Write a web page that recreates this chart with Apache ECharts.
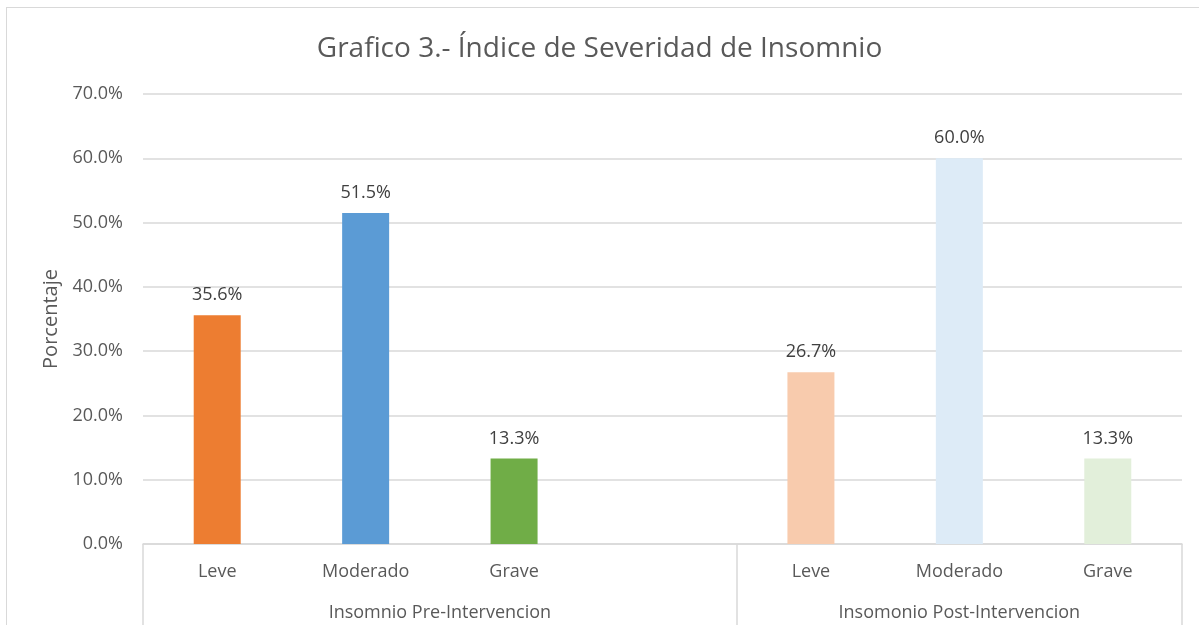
<!DOCTYPE html>
<html>
<head>
<meta charset="utf-8">
<script src="https://cdn.jsdelivr.net/npm/echarts@6/dist/echarts.min.js"></script>
<style>
  html, body { margin: 0; padding: 0; background: #fff; }
  .frame {
    position: absolute; left: 6px; top: 7px; width: 1200px; height: 640px;
    border-left: 1px solid #d9d9d9; border-top: 1px solid #d9d9d9;
  }
  #chart { position: absolute; left: 0; top: 0; width: 1199px; height: 625px; }
</style>
</head>
<body>
<div class="frame"></div>
<div id="chart"></div>
<script>
// inner categories (slot 3 is an empty gap in the first group)
const categories = ['Leve', 'Moderado', 'Grave', '', 'Leve', 'Moderado', 'Grave']
const values = [0.356, 0.515, 0.133, null, 0.267, 0.600, 0.133]
const barColors = ['#ED7D31', '#5B9BD5', '#70AD47', '#ffffff', '#F8CBAD', '#DDEBF7', '#E2EFDA']

// outer group level: half-slot points, group names at their centers
const groupPoints = ['', '', '', '', 'Insomnio Pre-Intervencion', '', '', '', '', '', '', 'Insomonio Post-Intervencion', '', '', '']
const groupEdges = [0, 8, 14]

const yTicks = [0, 0.1, 0.2, 0.3, 0.4, 0.5, 0.6, 0.7]

const font = '"Open Sans", "Noto Sans", sans-serif'
const chart = echarts.init(document.getElementById('chart'))

const option = {
  animation: false,
  textStyle: { fontFamily: font },
  title: {
    text: 'Grafico 3.- Índice de Severidad de Insomnio',
    left: 'center',
    top: 30,
    textStyle: { fontSize: 28, fontWeight: 'normal', color: '#595959', fontFamily: font }
  },
  grid: { left: 143, right: 17, top: 94, bottom: 81, containLabel: false },
  xAxis: [
    {
      type: 'category',
      position: 'bottom',
      data: categories,
      axisLine: { show: true, lineStyle: { color: '#d9d9d9', width: 1.5 } },
      axisTick: { show: false },
      axisLabel: { color: '#595959', fontSize: 18, margin: 19 }
    },
    {
      type: 'category',
      position: 'bottom',
      boundaryGap: false,
      data: groupPoints,
      axisLine: { show: false },
      axisTick: {
        show: true,
        length: 81,
        interval: (idx) => groupEdges.includes(idx),
        lineStyle: { color: '#d9d9d9', width: 1.5 }
      },
      axisLabel: {
        color: '#595959', fontSize: 18, margin: 60,
        interval: (idx, val) => val !== ''
      }
    }
  ],
  yAxis: {
    type: 'value',
    min: yTicks[0],
    max: yTicks[yTicks.length - 1],
    interval: 0.1,
    name: 'Porcentaje',
    nameLocation: 'middle',
    nameGap: 82,
    nameRotate: 90,
    nameTextStyle: { color: '#595959', fontSize: 20 },
    axisLine: { show: false },
    axisTick: { show: false },
    splitLine: { lineStyle: { color: '#d9d9d9', width: 1.5 } },
    axisLabel: {
      color: '#595959', fontSize: 18, margin: 20,
      formatter: (v) => (v * 100).toFixed(1) + '%'
    }
  },
  series: [
    {
      type: 'bar',
      xAxisIndex: 0,
      barWidth: 47,
      data: values.map((v, i) => ({ value: v, itemStyle: { color: barColors[i] } })),
      label: {
        show: true,
        position: 'top',
        distance: 11,
        color: '#404040',
        fontSize: 18,
        formatter: (p) => (p.value == null ? '' : (p.value * 100).toFixed(1) + '%')
      }
    }
  ]
}

chart.setOption(option)
</script>
</body>
</html>
